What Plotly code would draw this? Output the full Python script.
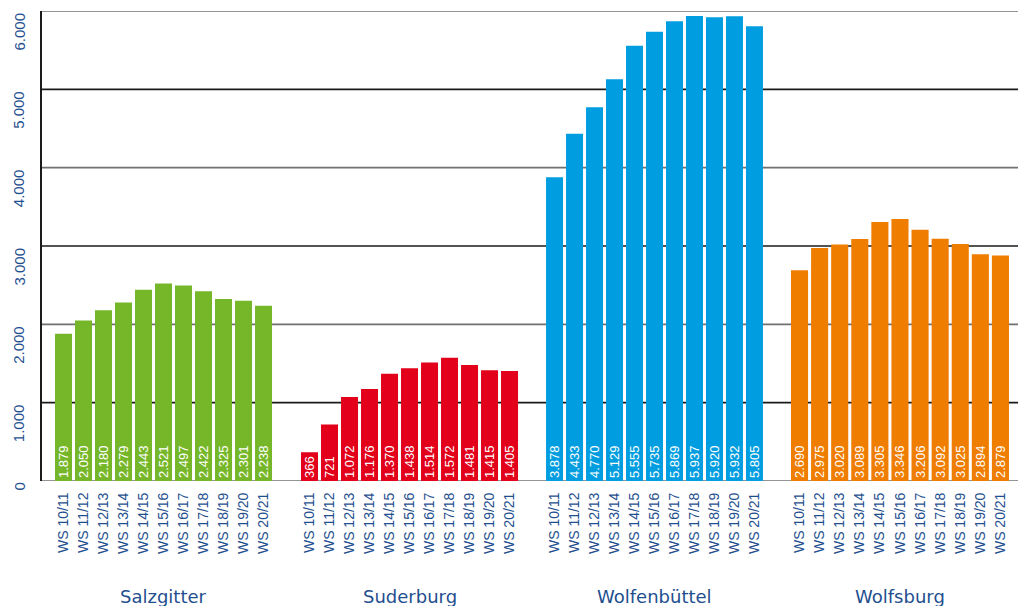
import plotly.graph_objects as go

seasons = ["WS 10/11", "WS 11/12", "WS 12/13", "WS 13/14", "WS 14/15", "WS 15/16",
           "WS 16/17", "WS 17/18", "WS 18/19", "WS 19/20", "WS 20/21"]
locations = ["Salzgitter", "Suderburg", "Wolfenbüttel", "Wolfsburg"]
salzgitter = [1879, 2050, 2180, 2279, 2443, 2521, 2497, 2422, 2325, 2301, 2238]
suderburg = [366, 721, 1072, 1176, 1370, 1438, 1514, 1572, 1481, 1415, 1405]
wolfenbuettel = [3878, 4433, 4770, 5129, 5555, 5735, 5869, 5937, 5920, 5932, 5805]
wolfsburg = [2690, 2975, 3020, 3089, 3305, 3346, 3206, 3092, 3025, 2894, 2879]
series = [salzgitter, suderburg, wolfenbuettel, wolfsburg]
colors = ["#76b72a", "#e2001a", "#009ee0", "#ef7d00"]
y_ticks = [0, 1000, 2000, 3000, 4000, 5000, 6000]
y_tick_labels = ["0", "1.000", "2.000", "3.000", "4.000", "5.000", "6.000"]

BLUE = "#1f4f8f"
SANS = "Liberation Sans, Arial, sans-serif"
domains = [(0.0128, 0.2380), (0.2646, 0.4898), (0.5154, 0.7405), (0.7661, 0.9923)]

fig = go.Figure()
for i, (name, vals, col) in enumerate(zip(locations, series, colors)):
    ax = "x" if i == 0 else f"x{i+1}"
    fig.add_trace(go.Bar(
        x=seasons, y=vals, name=name, xaxis=ax, yaxis="y",
        marker=dict(color=col, line=dict(width=0)),
        texttemplate="%{y:,}", textposition="inside", insidetextanchor="start",
        textangle=-90, constraintext="none",
        insidetextfont=dict(color="white", size=13, family=SANS),
        showlegend=False, hoverinfo="x+y",
    ))
    key = "xaxis" if i == 0 else f"xaxis{i+1}"
    fig.layout[key] = dict(
        domain=list(domains[i]), anchor="y", type="category",
        tickangle=-90, showgrid=False, zeroline=False, showline=False,
        ticks="outside", ticklen=5, tickcolor="rgba(0,0,0,0)",
        tickfont=dict(color=BLUE, size=14, family=SANS),
    )
    fig.add_annotation(
        text=name, xref=f"{ax} domain", yref="paper", x=0.5, y=-0.245,
        xanchor="center", yanchor="middle", showarrow=False,
        font=dict(color=BLUE, size=18, family="DejaVu Sans, sans-serif"),
    )

for v, lab in zip(y_ticks, y_tick_labels):
    fig.add_shape(type="line", xref="paper", yref="y", x0=0, x1=1, y0=v, y1=v,
                  line=dict(color="#1a1a1a" if (v // 1000) % 2 == 1 else "#707070", width=1.6),
                  layer="below")
    fig.add_annotation(
        text=lab, xref="paper", yref="y", x=-0.023, y=v, textangle=-90,
        xanchor="center", yanchor="top", showarrow=False,
        font=dict(color=BLUE, size=15, family=SANS),
    )

fig.update_layout(
    width=1018, height=606,
    margin=dict(l=41, r=0, t=11, b=125),
    plot_bgcolor="white", paper_bgcolor="white",
    bargap=0.15, separators=",.",
    yaxis=dict(
        range=[0, 6000], tickvals=y_ticks, anchor="free", position=0,
        showgrid=False, zeroline=False, showline=True, linecolor="#1a1a1a", linewidth=1.6,
        showticklabels=False, ticks="",
    ),
)

fig.write_html("out.html", config={"displayModeBar": False},
               post_script="document.body.style.margin='0';")
